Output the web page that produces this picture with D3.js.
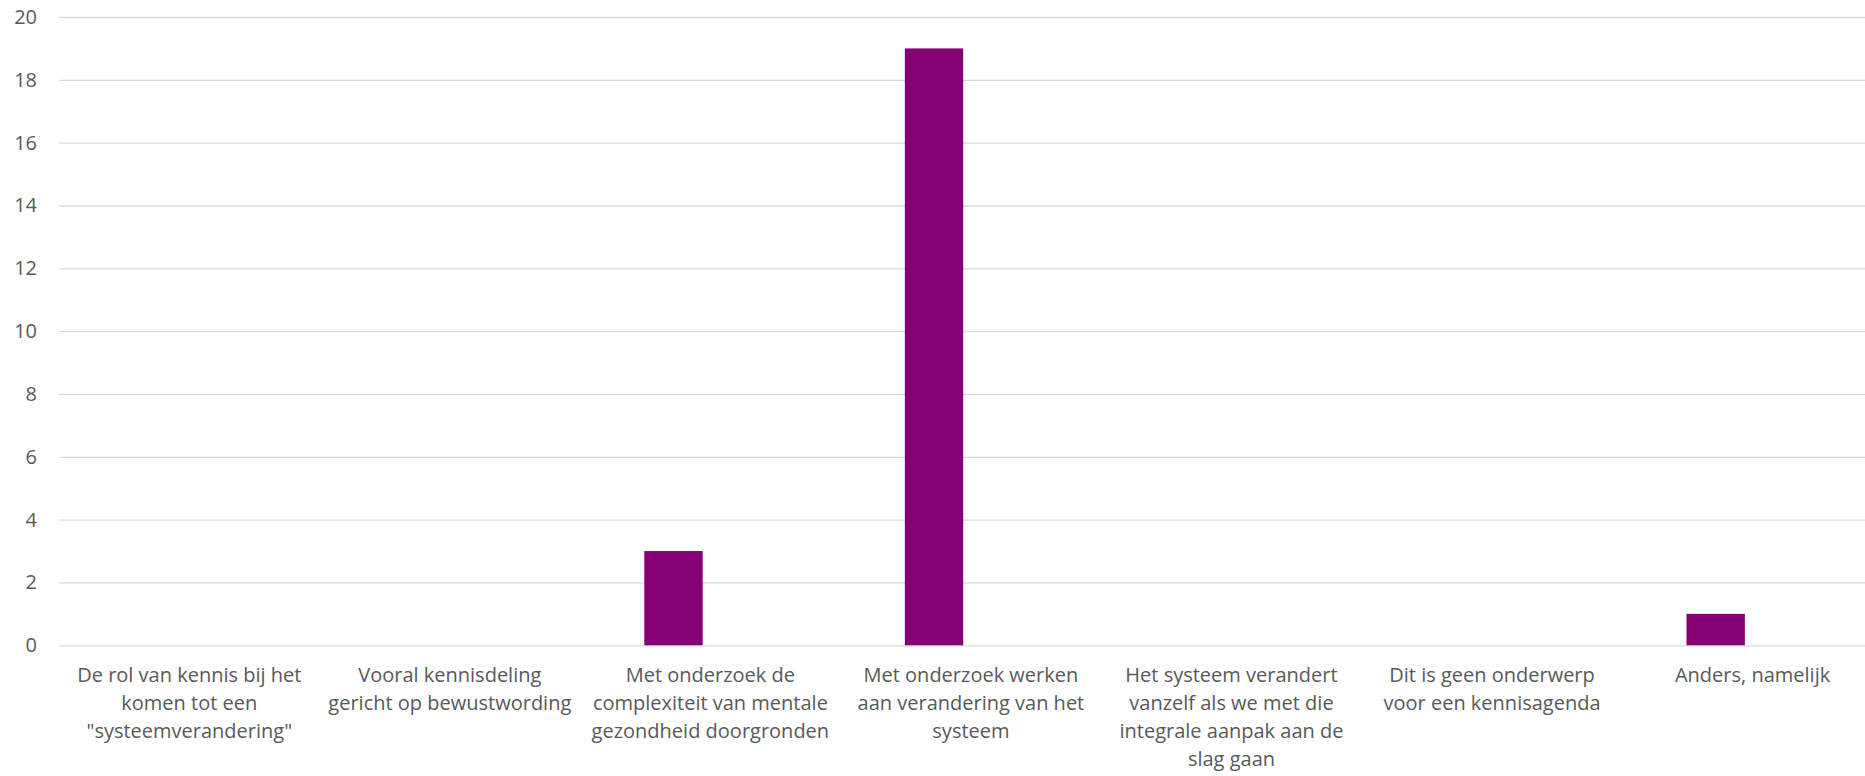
<!DOCTYPE html>
<html>
<head>
<meta charset="utf-8">
<script src="https://cdn.jsdelivr.net/npm/d3@7"></script>
<style>
  html, body { margin: 0; padding: 0; background: #fff; overflow: hidden; }
  svg { display: block; }
  .axis text { font-family: "Open Sans", "Noto Sans", sans-serif; fill: #595959; }
</style>
</head>
<body>
<div id="chart"></div>
<script>
const categories = [
  'De rol van kennis bij het komen tot een "systeemverandering"',
  'Vooral kennisdeling gericht op bewustwording',
  'Met onderzoek de complexiteit van mentale gezondheid doorgronden',
  'Met onderzoek werken aan verandering van het systeem',
  'Het systeem verandert vanzelf als we met die integrale aanpak aan de slag gaan',
  'Dit is geen onderwerp voor een kennisagenda',
  'Anders, namelijk',
];

// wrapped the same way as in the original chart
const labelLines = [
  ['De rol van kennis bij het', 'komen tot een', '"systeemverandering"'],
  ['Vooral kennisdeling', 'gericht op bewustwording'],
  ['Met onderzoek de', 'complexiteit van mentale', 'gezondheid doorgronden'],
  ['Met onderzoek werken', 'aan verandering van het', 'systeem'],
  ['Het systeem verandert', 'vanzelf als we met die', 'integrale aanpak aan de', 'slag gaan'],
  ['Dit is geen onderwerp', 'voor een kennisagenda'],
  ['Anders, namelijk'],
];

const counts = [0, 0, 3, 19, 0, 0, 1];

const yTicks = [0, 2, 4, 6, 8, 10, 12, 14, 16, 18, 20];

const W = 1865, H = 776;
const plot = { left: 59, top: 17, bottom: 645.3, right: 59 + 7 * 260.55 };
const FONT = 20;

const svg = d3.select('#chart').append('svg')
  .attr('width', W)
  .attr('height', H);

const x = d3.scaleBand()
  .domain(categories)
  .range([plot.left, plot.right])
  .padding(0);

// bar sits left of the category centre (excel cluster slot)
const slot = d3.scaleBand()
  .domain(['counts', 'spare'])
  .range([0, x.bandwidth()])
  .paddingInner(0.209)
  .paddingOuter(0.87);

const y = d3.scaleLinear()
  .domain([0, 20])
  .range([plot.bottom, plot.top]);

// gridlines + y labels
svg.append('g')
  .attr('class', 'axis axis--y')
  .attr('transform', `translate(${plot.left},0)`)
  .call(d3.axisLeft(y).tickValues(yTicks).tickSize(-(plot.right - plot.left)).tickPadding(22))
  .call(ax => ax.select('.domain').remove())
  .call(ax => ax.selectAll('.tick line').attr('stroke', '#d9d9d9').attr('stroke-width', 1.3))
  .call(ax => ax.selectAll('.tick text').attr('font-size', FONT));

// bars
svg.append('g')
  .selectAll('rect')
  .data(categories.map((c, i) => ({ cat: c, value: counts[i] })))
  .join('rect')
  .attr('x', d => x(d.cat) + slot('counts'))
  .attr('width', slot.bandwidth())
  .attr('y', d => y(d.value))
  .attr('height', d => y(0) - y(d.value))
  .attr('fill', '#850074');

// category labels
const xLabels = svg.append('g').attr('class', 'axis axis--x');
categories.forEach((c, i) => {
  const cx = x(c) + x.bandwidth() / 2;
  const t = xLabels.append('text')
    .attr('x', cx)
    .attr('y', plot.bottom + 37)
    .attr('text-anchor', 'middle')
    .attr('font-size', FONT);
  labelLines[i].forEach((line, j) => {
    t.append('tspan')
      .attr('x', cx)
      .attr('dy', j === 0 ? 0 : 28)
      .text(line);
  });
});
</script>
</body>
</html>
